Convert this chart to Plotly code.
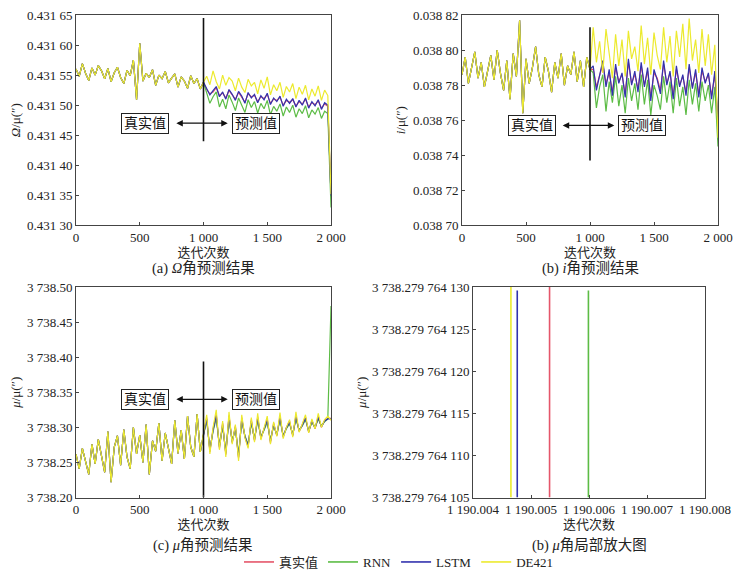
import plotly.graph_objects as go

# ---------------- data ----------------
series_names = ["真实值", "RNN", "LSTM", "DE421"]
series_colors = ["#e5566a", "#5cbc45", "#3232ae", "#ecea2e"]

iter_hist = list(range(0, 1001, 25))
iter_pred = list(range(1025, 2001, 25))

# (a) Omega
omega_hist = [0.431560, 0.431548, 0.431569, 0.431553, 0.431541, 0.431562, 0.431550, 0.431566, 0.431557, 0.431544,
              0.431561, 0.431539, 0.431554, 0.431563, 0.431546, 0.431536, 0.431558, 0.431549, 0.431575, 0.431509,
              0.431603, 0.431540, 0.431553, 0.431546, 0.431559, 0.431533, 0.431550, 0.431544, 0.431556, 0.431537,
              0.431545, 0.431552, 0.431530, 0.431547, 0.431540, 0.431528, 0.431549, 0.431536, 0.431544, 0.431527,
              0.431538]
omega_true = [0.431526, 0.431519, 0.431522, 0.431529, 0.431516, 0.431520, 0.431512, 0.431524, 0.431516, 0.431510,
              0.431521, 0.431513, 0.431505, 0.431519, 0.431514, 0.431516, 0.431506, 0.431514, 0.431511, 0.431518,
              0.431503, 0.431510, 0.431508, 0.431513, 0.431500, 0.431508, 0.431505, 0.431509, 0.431499, 0.431506,
              0.431502, 0.431510, 0.431497, 0.431504, 0.431501, 0.431507, 0.431495, 0.431502, 0.431498, 0.431348]
omega_rnn = [0.431520, 0.431503, 0.431514, 0.431522, 0.431497, 0.431510, 0.431494, 0.431517, 0.431505, 0.431491,
             0.431512, 0.431500, 0.431488, 0.431509, 0.431496, 0.431506, 0.431487, 0.431503, 0.431494, 0.431508,
             0.431484, 0.431498, 0.431490, 0.431502, 0.431482, 0.431497, 0.431488, 0.431500, 0.431480, 0.431494,
             0.431486, 0.431499, 0.431479, 0.431492, 0.431485, 0.431496, 0.431478, 0.431490, 0.431486, 0.431330]
omega_lstm = [0.431528, 0.431517, 0.431524, 0.431531, 0.431514, 0.431522, 0.431510, 0.431526, 0.431518, 0.431508,
              0.431523, 0.431515, 0.431503, 0.431521, 0.431512, 0.431518, 0.431504, 0.431516, 0.431509, 0.431520,
              0.431501, 0.431512, 0.431506, 0.431515, 0.431498, 0.431510, 0.431503, 0.431511, 0.431497, 0.431508,
              0.431500, 0.431512, 0.431495, 0.431506, 0.431499, 0.431509, 0.431493, 0.431504, 0.431500, 0.431350]
omega_de421 = [0.431548, 0.431534, 0.431557, 0.431539, 0.431527, 0.431550, 0.431533, 0.431546, 0.431540, 0.431524,
               0.431545, 0.431530, 0.431521, 0.431543, 0.431532, 0.431538, 0.431519, 0.431542, 0.431528, 0.431547,
               0.431517, 0.431534, 0.431524, 0.431538, 0.431513, 0.431531, 0.431522, 0.431536, 0.431511, 0.431530,
               0.431518, 0.431533, 0.431509, 0.431527, 0.431515, 0.431532, 0.431508, 0.431525, 0.431516, 0.431352]
omega_ticks = [0.43130, 0.43135, 0.43140, 0.43145, 0.43150, 0.43155, 0.43160, 0.43165]
omega_divider = [0.43144, 0.431645]
omega_arrow_y = 0.43147

# (b) i
incl_hist = [0.038786, 0.038796, 0.038781, 0.038790, 0.038799, 0.038784, 0.038793, 0.038779, 0.038788, 0.038797,
             0.038783, 0.038800, 0.038787, 0.038777, 0.038794, 0.038772, 0.038798, 0.038785, 0.038817, 0.038764,
             0.038795, 0.038781, 0.038790, 0.038802, 0.038786, 0.038779, 0.038796, 0.038788, 0.038776, 0.038793,
             0.038784, 0.038798, 0.038780, 0.038791, 0.038786, 0.038799, 0.038782, 0.038794, 0.038779, 0.038796,
             0.038789]
incl_true = [0.038789, 0.038779, 0.038785, 0.038792, 0.038781, 0.038787, 0.038776, 0.038790, 0.038782, 0.038786,
             0.038775, 0.038793, 0.038781, 0.038786, 0.038778, 0.038791, 0.038780, 0.038788, 0.038773, 0.038787,
             0.038784, 0.038777, 0.038792, 0.038781, 0.038787, 0.038774, 0.038789, 0.038780, 0.038785, 0.038776,
             0.038790, 0.038779, 0.038787, 0.038775, 0.038788, 0.038782, 0.038786, 0.038774, 0.038786, 0.038758]
incl_rnn = [0.038787, 0.038767, 0.038779, 0.038786, 0.038765, 0.038782, 0.038770, 0.038785, 0.038768, 0.038780,
            0.038764, 0.038784, 0.038771, 0.038781, 0.038766, 0.038786, 0.038769, 0.038783, 0.038763, 0.038780,
            0.038774, 0.038766, 0.038785, 0.038770, 0.038782, 0.038764, 0.038784, 0.038768, 0.038779, 0.038763,
            0.038783, 0.038769, 0.038781, 0.038765, 0.038782, 0.038771, 0.038780, 0.038764, 0.038779, 0.038745]
incl_lstm = [0.038791, 0.038777, 0.038786, 0.038794, 0.038779, 0.038789, 0.038774, 0.038792, 0.038781, 0.038787,
             0.038773, 0.038795, 0.038780, 0.038788, 0.038776, 0.038793, 0.038779, 0.038790, 0.038771, 0.038789,
             0.038783, 0.038775, 0.038794, 0.038780, 0.038788, 0.038772, 0.038791, 0.038779, 0.038786, 0.038774,
             0.038792, 0.038778, 0.038789, 0.038773, 0.038790, 0.038781, 0.038787, 0.038772, 0.038788, 0.038760]
incl_de421 = [0.038813, 0.038793, 0.038805, 0.038787, 0.038812, 0.038798, 0.038784, 0.038809, 0.038791, 0.038806,
              0.038785, 0.038811, 0.038795, 0.038802, 0.038788, 0.038814, 0.038792, 0.038807, 0.038786, 0.038810,
              0.038797, 0.038789, 0.038813, 0.038793, 0.038808, 0.038785, 0.038811, 0.038796, 0.038815, 0.038789,
              0.038818, 0.038794, 0.038806, 0.038787, 0.038812, 0.038791, 0.038809, 0.038786, 0.038803, 0.038750]
incl_ticks = [0.03870, 0.03872, 0.03874, 0.03876, 0.03878, 0.03880, 0.03882]
incl_divider = [0.038737, 0.038813]
incl_arrow_y = 0.038757

# (c) mu
mu_hist = [3738.262, 3738.241, 3738.270, 3738.252, 3738.233, 3738.276, 3738.248, 3738.283, 3738.259, 3738.236,
           3738.294, 3738.222, 3738.272, 3738.288, 3738.246, 3738.297, 3738.258, 3738.241, 3738.300, 3738.262,
           3738.289, 3738.250, 3738.304, 3738.233, 3738.281, 3738.266, 3738.306, 3738.252, 3738.292, 3738.270,
           3738.248, 3738.310, 3738.263, 3738.296, 3738.255, 3738.316, 3738.272, 3738.258, 3738.319, 3738.265,
           3738.290]
mu_true = [3738.314, 3738.265, 3738.298, 3738.319, 3738.270, 3738.306, 3738.261, 3738.317, 3738.278, 3738.302,
           3738.256, 3738.314, 3738.286, 3738.272, 3738.311, 3738.281, 3738.315, 3738.284, 3738.298, 3738.312,
           3738.278, 3738.306, 3738.288, 3738.316, 3738.286, 3738.300, 3738.309, 3738.288, 3738.317, 3738.294,
           3738.304, 3738.315, 3738.293, 3738.310, 3738.298, 3738.316, 3738.300, 3738.310, 3738.313, 3738.313]
mu_rnn = [3738.309, 3738.269, 3738.294, 3738.313, 3738.274, 3738.301, 3738.266, 3738.311, 3738.281, 3738.298,
          3738.261, 3738.309, 3738.288, 3738.276, 3738.306, 3738.284, 3738.310, 3738.287, 3738.296, 3738.307,
          3738.282, 3738.302, 3738.290, 3738.311, 3738.288, 3738.298, 3738.305, 3738.290, 3738.312, 3738.296,
          3738.302, 3738.311, 3738.295, 3738.307, 3738.300, 3738.312, 3738.302, 3738.308, 3738.312, 3738.473]
mu_lstm = [3738.312, 3738.267, 3738.296, 3738.317, 3738.272, 3738.304, 3738.263, 3738.315, 3738.279, 3738.300,
           3738.258, 3738.312, 3738.287, 3738.274, 3738.309, 3738.282, 3738.313, 3738.285, 3738.297, 3738.310,
           3738.280, 3738.304, 3738.289, 3738.314, 3738.287, 3738.299, 3738.307, 3738.289, 3738.315, 3738.295,
           3738.303, 3738.313, 3738.294, 3738.309, 3738.299, 3738.314, 3738.301, 3738.309, 3738.312, 3738.312]
mu_de421 = [3738.318, 3738.262, 3738.300, 3738.325, 3738.268, 3738.309, 3738.258, 3738.322, 3738.276, 3738.304,
            3738.252, 3738.318, 3738.285, 3738.270, 3738.314, 3738.279, 3738.320, 3738.282, 3738.298, 3738.316,
            3738.276, 3738.308, 3738.287, 3738.321, 3738.284, 3738.300, 3738.311, 3738.286, 3738.322, 3738.293,
            3738.305, 3738.318, 3738.292, 3738.312, 3738.298, 3738.320, 3738.300, 3738.311, 3738.316, 3738.310]
mu_ticks = [3738.20, 3738.25, 3738.30, 3738.35, 3738.40, 3738.45, 3738.50]
mu_divider = [3738.20, 3738.394]
mu_arrow_y = 3738.34

iter_ticks = [0, 500, 1000, 1500, 2000]
box_x = [545, 1410]
arrow_span = [775, 1190]

# (d) mu zoom
zoom_x = [1190.005320, 1190.005990, 1190.004763, 1190.004654]   # true, RNN, LSTM, DE421
zoom_y_low = [3738.279764105, 3738.279764105, 3738.279764105, 3738.279764105]
zoom_y_high = [3738.279764130, 3738.2797641296, 3738.2797641296, 3738.279764130]
zoom_x_ticks = [1190.004, 1190.005, 1190.006, 1190.007, 1190.008]
zoom_y_ticks = [3738.279764105, 3738.279764110, 3738.279764115, 3738.279764120, 3738.279764125, 3738.279764130]

# ---------------- helpers ----------------
FONT = "'Liberation Serif', 'Noto Sans CJK SC', serif"
W, H = 741, 577          # target window
OFF = 8                  # page body margin
FW, FH = W - OFF, H - OFF


def label(v, decimals):
    s = f"{v:.{decimals}f}"
    if "." in s:
        ip, fp = s.split(".")
    else:
        ip, fp = s, ""
    ipg = "{:,}".format(int(ip)).replace(",", " ")
    fpg = " ".join(fp[i:i + 3] for i in range(0, len(fp), 3))
    return ipg + ("." + fpg if fp else "")


def px_x(px):
    return (px - OFF) / FW


def px_y(py):
    return (FH - (py - OFF)) / FH


def dom_x(l, r):
    return [px_x(l), px_x(r)]


def dom_y(t, b):
    return [px_y(b), px_y(t)]


axis_style = dict(showline=True, linecolor="#444", linewidth=1, mirror=True, ticks="inside",
                  ticklen=3, tickcolor="#444", showgrid=False, zeroline=False, automargin=False,
                  tickangle=0, tickfont=dict(family=FONT, size=13, color="#222"))

fig = go.Figure()

panels = [
    ("x", "y", omega_hist, [omega_true, omega_rnn, omega_lstm, omega_de421], omega_divider, omega_arrow_y),
    ("x2", "y2", incl_hist, [incl_true, incl_rnn, incl_lstm, incl_de421], incl_divider, incl_arrow_y),
    ("x3", "y3", mu_hist, [mu_true, mu_rnn, mu_lstm, mu_de421], mu_divider, mu_arrow_y),
]

annotations = []
for pi, (xa, ya, hist, preds, divider, arrow_y) in enumerate(panels):
    for si, name in enumerate(series_names):
        fig.add_trace(go.Scatter(x=iter_hist + iter_pred, y=hist + preds[si], mode="lines",
                                 name=name, legendgroup=name, showlegend=False,
                                 line=dict(color=series_colors[si], width=1.2),
                                 xaxis=xa, yaxis=ya, hoverinfo="skip"))
    fig.add_trace(go.Scatter(x=[iter_ticks[2], iter_ticks[2]], y=divider, mode="lines",
                             line=dict(color="#111", width=1.6), showlegend=False,
                             xaxis=xa, yaxis=ya, hoverinfo="skip"))
    for bx, txt in zip(box_x, ["真实值", "预测值"]):
        annotations.append(dict(x=bx, y=arrow_y, xref=xa, yref=ya, text=txt, showarrow=False,
                                bordercolor="#222", borderwidth=1, borderpad=2, bgcolor="white",
                                font=dict(family=FONT, size=14, color="#111")))
    annotations.append(dict(x=arrow_span[1], y=arrow_y, ax=arrow_span[0], ay=arrow_y,
                            xref=xa, yref=ya, axref=xa, ayref=ya, text="", showarrow=True,
                            arrowhead=2, startarrowhead=2, arrowside="end+start",
                            arrowsize=1, startarrowsize=1, arrowwidth=1.3, arrowcolor="#111"))

for si, name in enumerate(series_names):
    fig.add_trace(go.Scatter(x=[zoom_x[si], zoom_x[si]], y=[zoom_y_low[si], zoom_y_high[si]],
                             mode="lines", name=name, legendgroup=name, showlegend=True,
                             line=dict(color=series_colors[si], width=1.6),
                             xaxis="x4", yaxis="y4", hoverinfo="skip"))

iter_labels = [label(v, 0) for v in iter_ticks]
title_font = dict(family=FONT, size=13, color="#222")

layout = dict(
    width=FW, height=FH, margin=dict(l=0, r=0, t=0, b=0),
    paper_bgcolor="white", plot_bgcolor="white",
    font=dict(family=FONT, size=13, color="#222"),
    showlegend=True,
    legend=dict(orientation="h", x=px_x(399), xanchor="center", y=px_y(566), yanchor="middle",
                font=dict(family=FONT, size=13, color="#222"), itemwidth=30,
                bgcolor="rgba(0,0,0,0)"),
    xaxis=dict(axis_style, domain=dom_x(76, 331), anchor="y", range=[0, 2000],
               tickvals=iter_ticks, ticktext=iter_labels,
               title=dict(text="迭代次数", font=title_font, standoff=3)),
    yaxis=dict(axis_style, domain=dom_y(15, 227), anchor="x", range=[omega_ticks[0], omega_ticks[-1]],
               tickvals=omega_ticks, ticktext=[label(v, 5) for v in omega_ticks],
               title=dict(text="<i>Ω</i>/μ(″)", font=title_font, standoff=4)),
    xaxis2=dict(axis_style, domain=dom_x(462, 718), anchor="y2", range=[0, 2000],
                tickvals=iter_ticks, ticktext=iter_labels,
                title=dict(text="迭代次数", font=title_font, standoff=3)),
    yaxis2=dict(axis_style, domain=dom_y(15, 227), anchor="x2", range=[incl_ticks[0], incl_ticks[-1]],
                tickvals=incl_ticks, ticktext=[label(v, 5) for v in incl_ticks],
                title=dict(text="<i>i</i>/μ(″)", font=title_font, standoff=4)),
    xaxis3=dict(axis_style, domain=dom_x(76, 331), anchor="y3", range=[0, 2000],
                tickvals=iter_ticks, ticktext=iter_labels,
                title=dict(text="迭代次数", font=title_font, standoff=3)),
    yaxis3=dict(axis_style, domain=dom_y(289, 501), anchor="x3", range=[mu_ticks[0], mu_ticks[-1]],
                tickvals=mu_ticks, ticktext=[label(v, 2) for v in mu_ticks],
                title=dict(text="<i>μ</i>/μ(″)", font=title_font, standoff=4)),
    xaxis4=dict(axis_style, domain=dom_x(473, 705), anchor="y4", range=[zoom_x_ticks[0], zoom_x_ticks[-1]],
                tickvals=zoom_x_ticks, ticktext=[label(v, 3) for v in zoom_x_ticks],
                title=dict(text="迭代次数", font=title_font, standoff=3)),
    yaxis4=dict(axis_style, domain=dom_y(289, 501), anchor="x4", range=[zoom_y_ticks[0], zoom_y_ticks[-1]],
                tickvals=zoom_y_ticks, ticktext=[label(v, 9) for v in zoom_y_ticks],
                title=dict(text="<i>μ</i>/μ(″)", font=title_font, standoff=2)),
)

subtitles = [("(a) <i>Ω</i>角预测结果", 203, 270), ("(b) <i>i</i>角预测结果", 590, 270),
             ("(c) <i>μ</i>角预测结果", 203, 549), ("(b) <i>μ</i>角局部放大图", 589, 549)]
for txt, px, py in subtitles:
    annotations.append(dict(x=px_x(px), y=px_y(py), xref="paper", yref="paper", text=txt,
                            showarrow=False, xanchor="center", yanchor="middle",
                            font=dict(family=FONT, size=14.5, color="#222")))

layout["annotations"] = annotations
fig.update_layout(layout)
fig.write_html("out.html")
